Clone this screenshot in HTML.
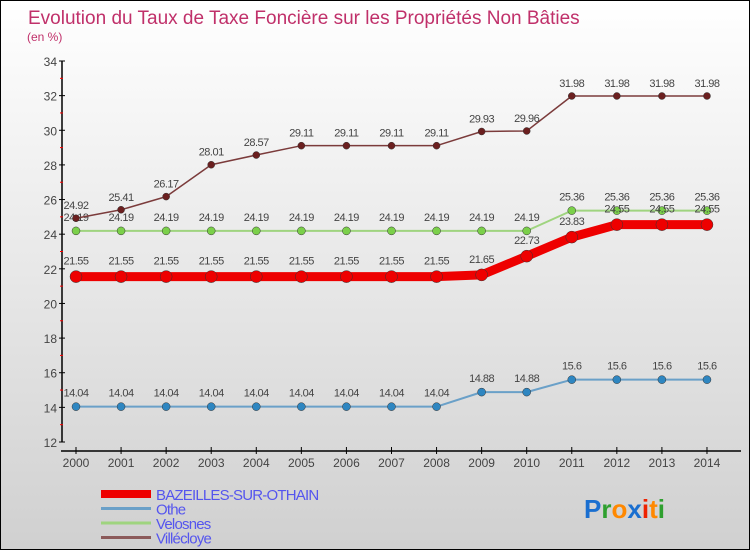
<!DOCTYPE html>
<html><head><meta charset="utf-8"><style>
body{margin:0}
#c{width:750px;height:550px;position:relative;background:linear-gradient(#ffffff,#d0d0d0);border:1px solid #000;box-sizing:border-box;font-family:"Liberation Sans",sans-serif;overflow:hidden}
</style></head><body>
<div id="c">
<svg id="s" width="750" height="550"></svg>
</div>
<script>
const years=["2000","2001","2002","2003","2004","2005","2006","2007","2008","2009","2010","2011","2012","2013","2014"];
const bazeilles=[21.55,21.55,21.55,21.55,21.55,21.55,21.55,21.55,21.55,21.65,22.73,23.83,24.55,24.55,24.55];
const othe=[14.04,14.04,14.04,14.04,14.04,14.04,14.04,14.04,14.04,14.88,14.88,15.6,15.6,15.6,15.6];
const velosnes=[24.19,24.19,24.19,24.19,24.19,24.19,24.19,24.19,24.19,24.19,24.19,25.36,25.36,25.36,25.36];
const villecloye=[24.92,25.41,26.17,28.01,28.57,29.11,29.11,29.11,29.11,29.93,29.96,31.98,31.98,31.98,31.98];
const yTicks=[12,14,16,18,20,22,24,26,28,30,32,34];
const seriesNames=["BAZEILLES-SUR-OTHAIN","Othe","Velosnes","Villécloye"];

const s=document.getElementById('s');const NS="http://www.w3.org/2000/svg";
function el(t,a,p){const e=document.createElementNS(NS,t);for(const k in a)e.setAttribute(k,a[k]);(p||s).appendChild(e);return e;}
const X=i=>75+i*45.07;
const Y=v=>60+(34-v)*(381/22);
function txt(x,y,str,a){const t=el('text',Object.assign({x:x,y:y},a));t.textContent=str;return t;}

let t=txt(27,23,"Evolution du Taux de Taxe Foncière sur les Propriétés Non Bâties",{fill:"#c0306a","font-size":"19"});

t=txt(26,40,"(en %)",{fill:"#c0306a","font-size":"12"});


let a=el('line',{x1:61,y1:60,x2:61,y2:441,stroke:"#000","stroke-width":1.5});

a=el('line',{x1:60,y1:450,x2:740,y2:450,stroke:"#000","stroke-width":1.5});

yTicks.forEach((v,i)=>{
 el('line',{x1:58,x2:64,y1:Y(v),y2:Y(v),stroke:"#000"});
 if(i<yTicks.length-1)el('line',{x1:59,x2:62,y1:Y(v+1),y2:Y(v+1),stroke:"#f00"});
 const l=txt(56,Y(v)+5,String(v),{fill:"#444","font-size":"12","text-anchor":"end"});
 
});
years.forEach((y,i)=>{
 el('line',{x1:X(i),x2:X(i),y1:446,y2:453,stroke:"#000"});
 const l=txt(X(i),466,y,{fill:"#444","font-size":"12","text-anchor":"middle"});
 
});

function series(data,color,w,r,dot,name,labOff){
 const g=el('g',{});
 el('polyline',{points:data.map((v,i)=>X(i)+","+Y(v)).join(" "),fill:"none",stroke:color,"stroke-width":w,"stroke-linejoin":"round"},g);
 data.forEach((v,i)=>{
  const c=el('circle',{cx:X(i),cy:Y(v),r:r,fill:dot,stroke:"#333","stroke-width":0.5},g);
  
  const l=txt(X(i),Y(v)+labOff,String(v),{fill:"#444","font-size":"11","text-anchor":"middle","letter-spacing":"-0.5"},g);
  
 });
}
series(othe,"#6aa0c8",2,4,"#2e86c1","series-othe",-10);
series(velosnes,"#9fd47f",2,4,"#7bd04a","series-velosnes",-10);
series(villecloye,"#7b3b3b",1.5,3.5,"#6b1f1f","series-villecloye",-9);
series(bazeilles,"#ee0000",9,6,"#ee0000","series-bazeilles",-12);

const lc=["#ee0000","#6aa0c8","#9fd47f","#8b5a5a"],lw=[8,3,3,3];
seriesNames.forEach((n,i)=>{
 const y=493+i*14.5;
 const g=el('g',{});
 el('line',{x1:100,x2:150,y1:y,y2:y,stroke:lc[i],"stroke-width":lw[i]},g);
 txt(155,y+6,n,{fill:"#5555ee","font-size":"15","letter-spacing":"-0.8"},g);
});
const lg=el('text',{x:583,y:517,"font-size":"26","font-weight":"bold","font-family":"Liberation Sans, sans-serif"});

[["P","#1a6fd0"],["r","#2fa02f"],["o","#ff8800"],["x","#1a6fd0"],["i","#ee2200"],["t","#ff8800"],["i","#2fa02f"]].forEach(([c,f])=>{const ts=el('tspan',{fill:f},lg);ts.textContent=c;});
</script>
</body></html>
